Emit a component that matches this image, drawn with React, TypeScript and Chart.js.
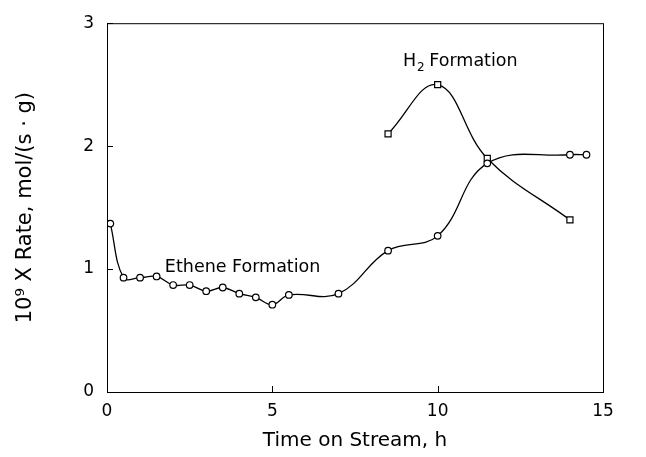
import React, { useEffect, useRef } from "react";
import { Chart, registerables } from "chart.js";

Chart.register(...registerables);

const etheneTime = [0.1, 0.5, 1.0, 1.5, 2.0, 2.5, 3.0, 3.5, 4.0, 4.5, 5.0, 5.5, 7.0, 8.5, 10.0, 11.5, 14.0, 14.5];
const etheneRate = [1.37, 0.93, 0.93, 0.94, 0.87, 0.87, 0.82, 0.85, 0.80, 0.77, 0.71, 0.79, 0.80, 1.15, 1.27, 1.86, 1.93, 1.93];
const h2Time = [8.5, 10.0, 11.5, 14.0];
const h2Rate = [2.1, 2.5, 1.9, 1.4];
const xTicks = [0, 5, 10, 15];
const yTicks = [0, 1, 2, 3];
const etheneLabel = { text: "Ethene Formation", x: 1.75, y: 0.98 };
const h2Label = { main: "H", sub: "2", rest: " Formation", x: 8.95, y: 2.65 };

const FONT = "'DejaVu Sans', sans-serif";

const framePlugin = {
  id: "frame",
  afterDraw(chart: any) {
    const { ctx, chartArea: a, scales } = chart;
    ctx.save();
    ctx.strokeStyle = "#000";
    ctx.lineWidth = 1;
    ctx.strokeRect(a.left + 0.5, a.top + 0.5, a.right - a.left, a.bottom - a.top);
    ctx.beginPath();
    for (const v of xTicks) {
      const px = Math.round(scales.x.getPixelForValue(v)) + 0.5;
      ctx.moveTo(px, a.bottom);
      ctx.lineTo(px, a.bottom - 6);
    }
    for (const v of yTicks) {
      const py = Math.round(scales.y.getPixelForValue(v)) + 0.5;
      ctx.moveTo(a.left, py);
      ctx.lineTo(a.left + 6, py);
    }
    ctx.stroke();
    ctx.fillStyle = "#000";
    ctx.textBaseline = "alphabetic";
    ctx.textAlign = "left";
    ctx.font = `17.5px ${FONT}`;
    ctx.fillText(etheneLabel.text, scales.x.getPixelForValue(etheneLabel.x), scales.y.getPixelForValue(etheneLabel.y));
    let hx = scales.x.getPixelForValue(h2Label.x);
    const hy = scales.y.getPixelForValue(h2Label.y);
    ctx.fillText(h2Label.main, hx, hy);
    hx += ctx.measureText(h2Label.main).width + 1;
    ctx.font = `12px ${FONT}`;
    ctx.fillText(h2Label.sub, hx, hy + 5);
    hx += ctx.measureText(h2Label.sub).width - 1;
    ctx.font = `17.5px ${FONT}`;
    ctx.fillText(h2Label.rest, hx, hy);
    ctx.restore();
  },
};

export default function App() {
  const ref = useRef<HTMLCanvasElement | null>(null);
  useEffect(() => {
    if (!ref.current) return;
    const chart = new Chart(ref.current, {
      type: "scatter",
      data: {
        datasets: [
          {
            label: "Ethene",
            data: etheneTime.map((t, i) => ({ x: t, y: etheneRate[i] })),
            showLine: true,
            tension: 0.4,
            borderColor: "#000",
            borderWidth: 1.3,
            pointStyle: "circle",
            pointRadius: 3.3,
            pointBackgroundColor: "#fff",
            pointBorderColor: "#000",
            pointBorderWidth: 1.2,
          },
          {
            label: "H2",
            data: h2Time.map((t, i) => ({ x: t, y: h2Rate[i] })),
            showLine: true,
            tension: 0.4,
            borderColor: "#000",
            borderWidth: 1.3,
            pointStyle: "rect",
            pointRadius: 4.3,
            pointBackgroundColor: "#fff",
            pointBorderColor: "#000",
            pointBorderWidth: 1.2,
          },
        ],
      },
      options: {
        animation: false,
        responsive: false,
        layout: { padding: { top: 18, right: 43, left: 0, bottom: 0 } },
        plugins: { legend: { display: false }, tooltip: { enabled: false } },
        scales: {
          x: {
            type: "linear",
            min: 0,
            max: 15,
            afterBuildTicks: (s: any) => { s.ticks = xTicks.map((v) => ({ value: v })); },
            afterFit: (s: any) => { s.height = 65; },
            grid: { display: false, drawTicks: false },
            border: { display: false },
            ticks: { color: "#000", font: { family: FONT, size: 17 }, padding: 9, maxRotation: 0 },
            title: { display: true, text: "Time on Stream, h", color: "#000", font: { family: FONT, size: 20 }, padding: { top: 6 } },
          },
          y: {
            type: "linear",
            min: 0,
            max: 3,
            afterBuildTicks: (s: any) => { s.ticks = yTicks.map((v) => ({ value: v })); },
            afterFit: (s: any) => { s.width = 107; },
            grid: { display: false, drawTicks: false },
            border: { display: false },
            ticks: { color: "#000", font: { family: FONT, size: 17 }, padding: 13 },
            title: { display: true, text: "10⁹ X Rate, mol/(s · g)", color: "#000", font: { family: FONT, size: 21 }, padding: { bottom: 0, top: 13 } },
          },
        },
      },
      plugins: [framePlugin],
    });
    return () => chart.destroy();
  }, []);
  return (
    <div style={{ position: "fixed", left: 0, top: 0, width: 646, height: 457, background: "#fff" }}>
      <canvas ref={ref} width={646} height={457} style={{ width: 646, height: 457 }} />
    </div>
  );
}
